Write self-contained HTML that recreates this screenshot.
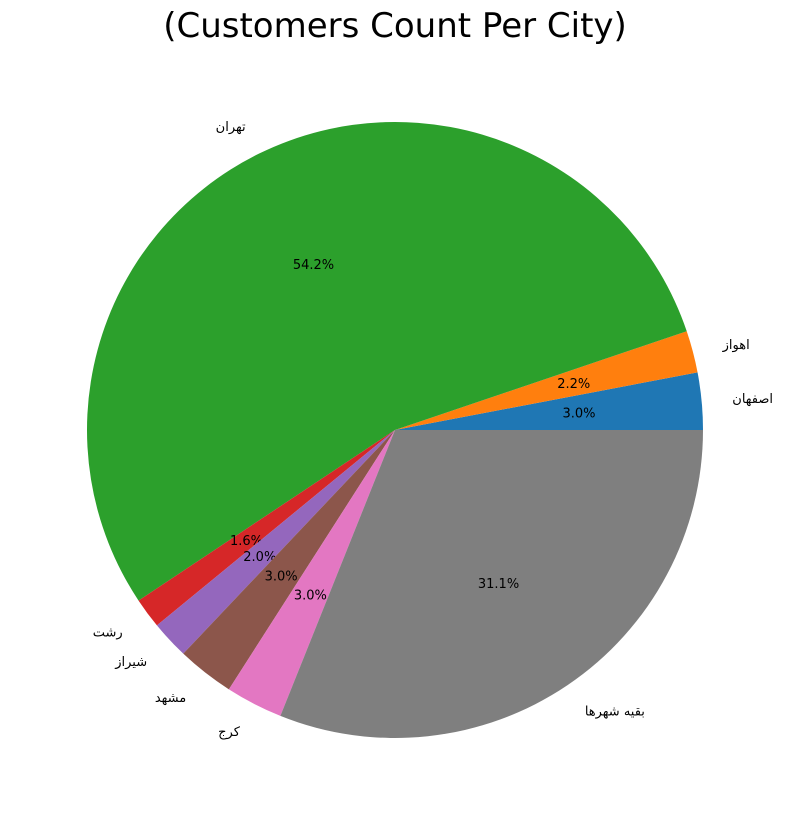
<!DOCTYPE html>
<html><head><meta charset="utf-8"><style>
body{margin:0;background:#fff;}
svg{display:block;font-family:"DejaVu Sans","Liberation Sans",sans-serif;}
</style></head><body>
<svg id="chart" width="790" height="825">
<text x="395" y="37" text-anchor="middle" font-size="34" fill="#000">(Customers Count Per City)</text>
<g id="slices"></g>
</svg>
<script>
const categories = ["اصفهان","اهواز","تهران","رشت","شیراز","مشهد","کرج","بقیه شهرها"];
const values = [3.0, 2.2, 54.2, 1.6, 2.0, 3.0, 3.0, 31.1];
const pctLabels = ["3.0%","2.2%","54.2%","1.6%","2.0%","3.0%","3.0%","31.1%"];
const colors = ["#1f77b4","#ff7f0e","#2ca02c","#d62728","#9467bd","#8c564b","#e377c2","#7f7f7f"];
const cx=395, cy=430, R=308;
const g=document.getElementById('slices');
const NS="http://www.w3.org/2000/svg";
const total=values.reduce((a,b)=>a+b,0);
let ang=0;
function pt(a,r){return [cx+r*Math.cos(a), cy-r*Math.sin(a)];}
values.forEach((v,i)=>{
  const a0=ang, a1=ang+v/total*2*Math.PI; ang=a1;
  const p0=pt(a0,R), p1=pt(a1,R);
  const large=(a1-a0)>Math.PI?1:0;
  const path=document.createElementNS(NS,'path');
  path.setAttribute('d',`M${cx},${cy} L${p0[0]},${p0[1]} A${R},${R} 0 ${large} 0 ${p1[0]},${p1[1]} Z`);
  path.setAttribute('fill',colors[i]);
  
  
  g.appendChild(path);
  const mid=(a0+a1)/2;
  const lp=pt(mid,R*1.1);
  const t=document.createElementNS(NS,'text');
  t.setAttribute('x',lp[0]); t.setAttribute('y',lp[1]+5);
  t.setAttribute('font-size','13');
  t.setAttribute('text-anchor',Math.cos(mid)>=0?'start':'end');
  t.textContent=categories[i];
  
  
  g.appendChild(t);
  const pp=pt(mid,R*0.6);
  const p=document.createElementNS(NS,'text');
  p.setAttribute('x',pp[0]); p.setAttribute('y',pp[1]+5);
  p.setAttribute('font-size','13');
  p.setAttribute('text-anchor','middle');
  p.textContent=pctLabels[i];
  
  
  g.appendChild(p);
});
</script>
</body></html>
